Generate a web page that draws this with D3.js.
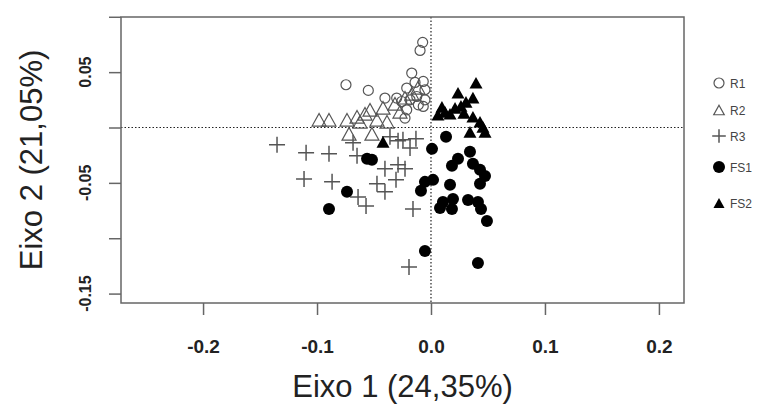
<!DOCTYPE html>
<html><head><meta charset="utf-8">
<script src="https://cdn.jsdelivr.net/npm/d3@7"></script>
<style>body{margin:0;background:#fff}svg{display:block}</style>
</head><body><svg id="c" width="767" height="406"></svg>
<script>
// data: [axis1, axis2]
const R1 = [[-0.0073,0.0769],[-0.0096,0.0696],[-0.0746,0.0386],[-0.0550,0.0335],[-0.0169,0.0492],[-0.0140,0.0407],[-0.0068,0.0416],[-0.0053,0.0341],[-0.0213,0.0356],[-0.0301,0.0266],[-0.0404,0.0266],[-0.0257,0.0235],[-0.0184,0.0250],[-0.0125,0.0280],[-0.0068,0.0190],[-0.0213,0.0160],[-0.0053,0.0250],[-0.0111,0.0205],[-0.0228,0.0085]];
const R2 = [[-0.0982,0.0070],[-0.0895,0.0070],[-0.0737,0.0070],[-0.0649,0.0097],[-0.0579,0.0124],[-0.0535,0.0160],[-0.0719,-0.0057],[-0.0518,-0.0057],[-0.0386,0.0052],[-0.0421,0.0178],[-0.0316,0.0214],[-0.0228,0.0269],[-0.0167,0.0305],[-0.0114,0.0359],[-0.0272,0.0142],[-0.0474,0.0070],[-0.0623,0.0052]];
const R3 = [[-0.1351,-0.0156],[-0.1096,-0.0229],[-0.0895,-0.0238],[-0.1114,-0.0464],[-0.0868,-0.0491],[-0.0649,-0.0256],[-0.0404,-0.0373],[-0.0289,-0.0337],[-0.0228,-0.0373],[-0.0307,-0.0473],[-0.0474,-0.0509],[-0.0404,-0.0581],[-0.0640,-0.0627],[-0.0570,-0.0708],[-0.0158,-0.0735],[-0.0193,-0.1259],[-0.0246,-0.0111],[-0.0184,-0.0184],[-0.0132,-0.0102],[-0.0289,-0.0120],[-0.0684,-0.0138],[-0.0360,-0.0084]];
const FS1 = [[0.0132,-0.0084],[0.0009,-0.0193],[0.0342,-0.0220],[0.0237,-0.0283],[0.0184,-0.0346],[0.0368,-0.0328],[0.0430,-0.0382],[0.0474,-0.0437],[0.0430,-0.0509],[0.0018,-0.0473],[-0.0053,-0.0491],[-0.0088,-0.0572],[0.0167,-0.0518],[0.0105,-0.0672],[0.0193,-0.0645],[0.0079,-0.0726],[0.0184,-0.0735],[0.0325,-0.0654],[0.0412,-0.0672],[0.0439,-0.0735],[0.0491,-0.0844],[-0.0561,-0.0283],[-0.0518,-0.0292],[-0.0737,-0.0581],[-0.0895,-0.0735],[-0.0053,-0.1115],[0.0412,-0.1223]];
const FS2 = [[0.0395,0.0404],[0.0237,0.0314],[0.0368,0.0269],[0.0307,0.0232],[0.0263,0.0196],[0.0211,0.0178],[0.0123,0.0142],[0.0061,0.0115],[0.0167,0.0124],[0.0289,0.0133],[0.0368,0.0097],[0.0430,0.0052],[0.0456,0.0006],[0.0342,-0.0039],[0.0474,-0.0039],[-0.0421,-0.0129],[0.0096,0.0187]];
const xTicks = [-0.2,-0.1,0.0,0.1,0.2];
const xTickLabels = ["-0.2","-0.1","0.0","0.1","0.2"];
const yTicks = [0.10,0.05,0,-0.05,-0.10,-0.15];
const yTickLabels = {"0.05":"0.05","-0.05":"-0.05","-0.15":"-0.15"};
const seriesNames = ["R1","R2","R3","FS1","FS2"];
const xTitle = "Eixo 1 (24,35%)";
const yTitle = "Eixo 2 (21,05%)";

const svg = d3.select("#c");
const L=121, R=684, T=17, B=303;
const x = d3.scaleLinear().domain([-0.272,0.222]).range([L,R]);
const y = d3.scaleLinear().domain([-0.1585,0.0998]).range([B,T]);
const font = "'Liberation Sans', Arial, sans-serif";
const axisCol = "#666";

// dotted reference lines
svg.append("line").attr("x1",L).attr("x2",R).attr("y1",y(0)).attr("y2",y(0))
  .attr("stroke","#222").attr("stroke-width",1.2).attr("stroke-dasharray","1.5,2");
svg.append("line").attr("x1",x(0)).attr("x2",x(0)).attr("y1",T).attr("y2",B)
  .attr("stroke","#222").attr("stroke-width",1.2).attr("stroke-dasharray","1.5,2");

// symbols
function tri(s){const h=s*0.9;return `M0,${-h/2}L${s/2},${h/2}L${-s/2},${h/2}Z`;}
function drawSym(g,type,cx,cy,scale){
  scale=scale||1;
  const gg=g.append("g").attr("transform",`translate(${cx},${cy})`);
  if(type==="R1") gg.append("circle").attr("r",5*scale).attr("fill","none").attr("stroke","#555").attr("stroke-width",1.2);
  else if(type==="R2") gg.append("path").attr("d",tri(14*scale)).attr("fill","none").attr("stroke","#555").attr("stroke-width",1.2);
  else if(type==="R3") {const a=8*scale; gg.append("path").attr("d",`M${-a},0H${a}M0,${-a}V${a}`).attr("stroke","#555").attr("stroke-width",1.5).attr("fill","none");}
  else if(type==="FS1") gg.append("circle").attr("r",6*scale).attr("fill","#000");
  else if(type==="FS2") gg.append("path").attr("d",tri(13*scale)).attr("fill","#000");
}
const pts = svg.append("g");
const all = {R1,R2,R3,FS1,FS2};
seriesNames.forEach(n=>{ all[n].forEach(d=>drawSym(pts,n,x(d[0]),y(d[1]))); });

// box
svg.append("rect").attr("x",L).attr("y",T).attr("width",R-L).attr("height",B-T)
  .attr("fill","none").attr("stroke",axisCol).attr("stroke-width",1.5);

// x axis
const xa = svg.append("g").attr("transform",`translate(0,${B})`)
  .call(d3.axisBottom(x).tickValues(xTicks).tickSize(12).tickFormat((d,i)=>xTickLabels[i]));
xa.select(".domain").remove();
xa.selectAll(".tick line").attr("stroke",axisCol).attr("stroke-width",1.5);
xa.selectAll(".tick text").attr("font-family",font).attr("font-size",19).attr("font-weight","bold")
  .attr("fill","#222").attr("dy",null).attr("y",50);

// y axis
const ya = svg.append("g").attr("transform",`translate(${L},0)`)
  .call(d3.axisLeft(y).tickValues(yTicks).tickSize(12).tickFormat(()=>""));
ya.select(".domain").remove();
ya.selectAll(".tick line").attr("stroke",axisCol).attr("stroke-width",1.5);
yTicks.forEach(v=>{
  const lab = yTickLabels[String(v)];
  if(!lab) return;
  svg.append("text").attr("transform",`translate(91,${y(v)}) rotate(-90)`)
    .attr("text-anchor","middle").attr("font-family",font).attr("font-size",16)
    .attr("font-weight","bold").attr("fill","#222").text(lab);
});

// titles
svg.append("text").attr("x",(L+R)/2).attr("y",397).attr("text-anchor","middle")
  .attr("font-family",font).attr("font-size",31).attr("fill","#222").text(xTitle);
svg.append("text").attr("transform",`translate(42,${(T+B)/2}) rotate(-90)`).attr("text-anchor","middle")
  .attr("font-family",font).attr("font-size",31).attr("fill","#222").text(yTitle);

// legend
const leg = svg.append("g");
const legY = [83,110,136,167,203];
seriesNames.forEach((n,i)=>{
  drawSym(leg,n,719,legY[i],n==="R3"?0.85:(n==="R2"?0.75:(n==="FS2"?0.85:1)));
  leg.append("text").attr("x",730).attr("y",legY[i]+4.5).attr("font-family",font)
    .attr("font-size",12).attr("fill","#444").text(n);
});
</script></body></html>
